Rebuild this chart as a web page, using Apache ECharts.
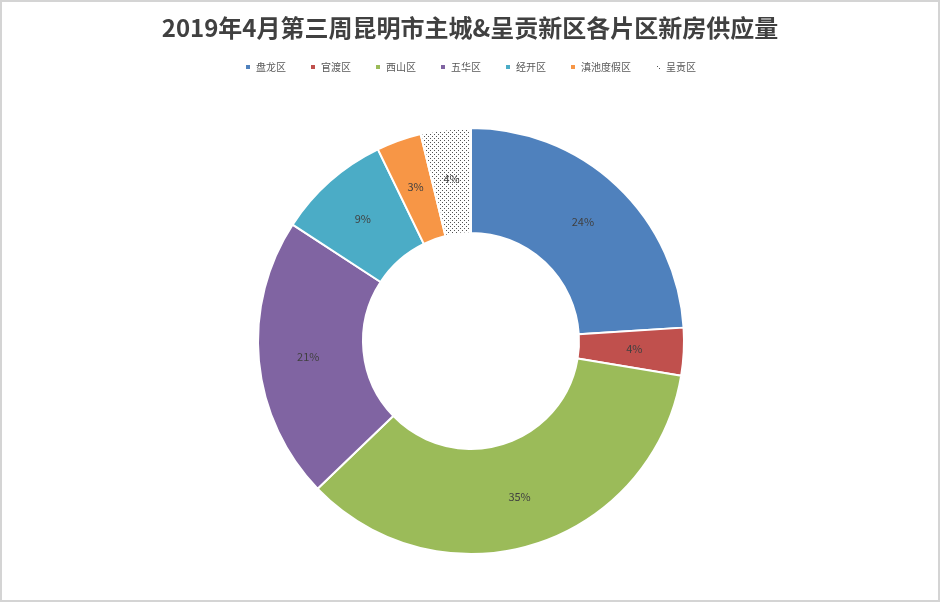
<!DOCTYPE html>
<html>
<head>
<meta charset="utf-8">
<script src="https://cdn.jsdelivr.net/npm/echarts@6/dist/echarts.min.js"></script>
<style>
html, body { margin: 0; padding: 0; background: #fff; }
#chart { width: 936px; height: 598px; border: 2px solid #d4d4d4; }
</style>
</head>
<body>
<div id="chart"></div>
<script>
const titleText = '2019年4月第三周昆明市主城&呈贡新区各片区新房供应量';
const districts = ['盘龙区', '官渡区', '西山区', '五华区', '经开区', '滇池度假区', '呈贡区'];
const shares = [24.0, 3.6, 35.2, 21.4, 8.6, 3.4, 3.8];
const colors = ['#4F81BD', '#C0504D', '#9BBB59', '#8064A2', '#4BACC6', '#F79646'];

// dotted fill for the last slice
function makeDots() {
    var c = document.createElement('canvas');
    c.width = 4;
    c.height = 4;
    var ctx = c.getContext('2d');
    ctx.fillStyle = '#ffffff';
    ctx.fillRect(0, 0, 4, 4);
    ctx.fillStyle = '#555555';
    ctx.fillRect(0, 0, 1, 1);
    ctx.fillRect(2, 2, 1, 1);
    return c;
}
const dotFill = { image: makeDots(), repeat: 'repeat' };

const chart = echarts.init(document.getElementById('chart'));

const data = districts.map(function (name, i) {
    return {
        name: name,
        value: shares[i],
        itemStyle: { color: i < colors.length ? colors[i] : dotFill }
    };
});

chart.setOption({
    animation: false,
    title: {
        text: titleText,
        left: 'center',
        top: 9,
        textStyle: {
            fontFamily: 'Noto Sans CJK SC',
            fontSize: 24,
            fontWeight: 'bold',
            color: '#404040'
        }
    },
    legend: {
        top: 55,
        left: 'center',
        itemWidth: 6,
        itemHeight: 6,
        itemGap: 23,
        icon: 'rect',
        textStyle: {
            fontFamily: 'Noto Sans CJK SC',
            fontSize: 10,
            color: '#595959'
        },
        data: districts
    },
    series: [{
        type: 'pie',
        center: [469, 339],
        radius: [108, 213],
        startAngle: 90,
        clockwise: true,
        itemStyle: { borderColor: '#ffffff', borderWidth: 2 },
        label: {
            position: 'inside',
            formatter: function (p) { return Math.round(p.percent) + '%'; },
            fontFamily: 'Noto Sans CJK SC',
            fontSize: 11,
            color: '#404040'
        },
        labelLine: { show: false },
        emphasis: { disabled: true },
        data: data
    }]
});
</script>
</body>
</html>
